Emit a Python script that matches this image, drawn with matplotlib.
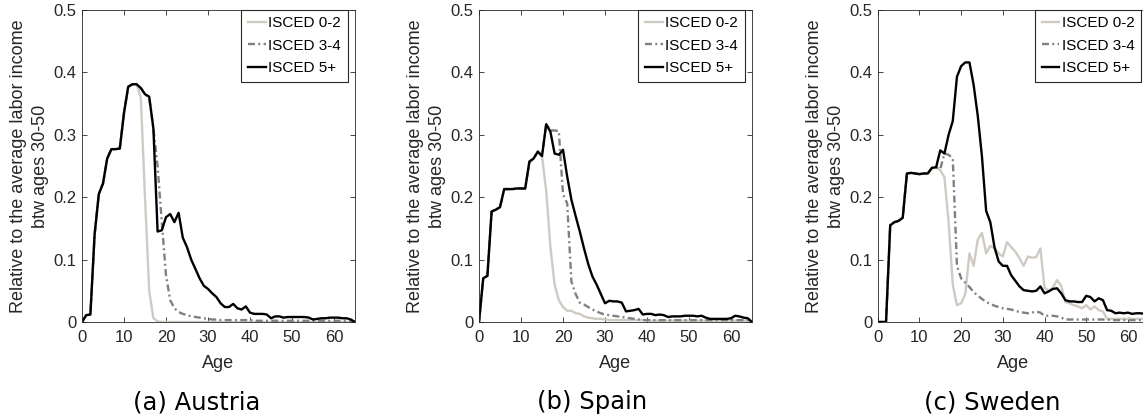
import numpy as np
import matplotlib
matplotlib.use('Agg')
import matplotlib.pyplot as plt

plt.rcParams['font.family'] = ['Liberation Sans', 'DejaVu Sans']
plt.rcParams['lines.scale_dashes'] = False

# ages 0..65
age = np.arange(0, 66)

# Austria
aut_low = [0, .011, .012, .14, .205, .222, .262, .277, .277, .278,
           .335, .377, .381, .381, .36, .2, .05, .006, .001, 0,
           0, 0, 0, 0, 0, 0, 0, 0, 0, 0,
           0, 0, 0, 0, 0, 0, 0, 0, 0, 0,
           0, 0, 0, 0, 0, 0, 0, 0, 0, 0,
           0, 0, 0, 0, 0, 0, 0, 0, 0, 0,
           0, 0, 0, 0, 0, 0]
aut_mid = [0, .011, .012, .14, .205, .222, .262, .277, .277, .278,
           .335, .377, .381, .381, .375, .365, .361, .31, .25, .16,
           .075, .035, .022, .016, .013, .011, .009, .008, .007, .006,
           .005, .004, .004, .003, .003, .003, .003, .003, .003, .003,
           .003, .002, .002, .002, .002, .002, .002, .002, .002, .002,
           .002, .002, .002, .002, .002, .002, .002, .002, .002, .002,
           .002, .002, .002, .002, .002, 0]
aut_hi = [0, .011, .012, .14, .205, .222, .262, .277, .277, .278,
          .335, .377, .381, .381, .375, .365, .361, .31, .145, .147,
          .168, .173, .16, .175, .135, .12, .1, .085, .07, .058,
          .053, .046, .04, .03, .024, .024, .029, .022, .02, .025,
          .015, .013, .013, .013, .012, .006, .009, .009, .007, .008,
          .008, .008, .008, .008, .007, .004, .005, .006, .006, .007,
          .007, .007, .006, .006, .004, 0]

# Spain
esp_low = [0, .07, .074, .177, .18, .184, .213, .213, .213, .214,
           .214, .214, .257, .262, .273, .266, .21, .12, .06, .035,
           .024, .018, .018, .014, .013, .009, .007, .006, .005, .005,
           .004, .003, .003, .003, .003, .003, .003, .003, .003, .003,
           .003, .002, .002, .002, .002, .002, .002, .002, .002, .002,
           .002, .002, .002, .002, .002, .002, .002, .002, .002, .002,
           .002, .002, .002, .002, .002, 0]
esp_mid = [0, .07, .074, .177, .18, .184, .213, .213, .213, .214,
           .214, .214, .257, .262, .273, .266, .317, .307, .307, .306,
           .205, .19, .065, .045, .031, .028, .024, .02, .017, .014,
           .012, .011, .01, .009, .008, .007, .006, .005, .004, .003,
           .003, .003, .003, .003, .003, .003, .003, .003, .003, .003,
           .003, .003, .003, .003, .003, .003, .003, .003, .003, .003,
           .003, .003, .003, .003, .003, 0]
esp_hi = [0, .07, .074, .177, .18, .184, .213, .213, .213, .214,
          .214, .214, .257, .262, .273, .266, .317, .305, .27, .268,
          .276, .233, .196, .17, .145, .118, .093, .073, .06, .045,
          .03, .034, .033, .033, .031, .017, .018, .019, .021, .012,
          .013, .013, .011, .012, .011, .008, .009, .009, .009, .01,
          .01, .01, .009, .01, .007, .005, .005, .005, .005, .005,
          .006, .01, .009, .007, .006, 0]

# Sweden
swe_low = [0, 0, 0, .155, .16, .162, .167, .238, .239, .238,
           .237, .238, .238, .247, .248, .243, .232, .16, .06, .027,
           .03, .045, .11, .09, .132, .143, .11, .122, .118, .11,
           .105, .128, .12, .113, .102, .09, .105, .103, .104, .118,
           .055, .05, .055, .067, .058, .032, .03, .027, .025, .022,
           .027, .02, .025, .019, .017, .005, .005, .005, .005, .005,
           .005, .005, .005, .005, .005, .005]
swe_mid = [0, 0, 0, .155, .16, .162, .167, .238, .239, .238,
           .237, .238, .238, .247, .248, .245, .27, .268, .262, .09,
           .07, .063, .056, .048, .042, .037, .032, .029, .026, .024,
           .022, .021, .02, .018, .016, .015, .014, .015, .017, .015,
           .01, .01, .01, .009, .007, .004, .004, .004, .004, .004,
           .004, .004, .004, .004, .004, .004, .003, .003, .003, .003,
           .003, .003, .003, .003, .003, .003]
swe_hi = [0, 0, 0, .155, .16, .162, .167, .238, .239, .238,
          .237, .238, .238, .247, .248, .275, .27, .3, .322, .393,
          .41, .416, .416, .38, .33, .265, .178, .16, .12, .097,
          .09, .09, .075, .066, .057, .051, .05, .049, .05, .057,
          .046, .049, .053, .054, .046, .035, .033, .033, .032, .032,
          .042, .04, .033, .038, .035, .019, .018, .014, .015, .014,
          .015, .013, .014, .014, .013, .013]

labels = ['ISCED 0-2', 'ISCED 3-4', 'ISCED 5+']
captions = ['(a) Austria', '(b) Spain', '(c) Sweden']
yticks = [0, 0.1, 0.2, 0.3, 0.4, 0.5]
ytick_labels = ['0', '0.1', '0.2', '0.3', '0.4', '0.5']
xticks = [0, 10, 20, 30, 40, 50, 60]

W, H = 1143, 419
# axes boxes in pixels: left, right ; top 10, bottom 322
boxes = [(82, 355), (479, 752), (877.7, 1148.8)]
cap_x = [197, 592, 992]
data = [(aut_low, aut_mid, aut_hi), (esp_low, esp_mid, esp_hi), (swe_low, swe_mid, swe_hi)]

dark = '#262626'
fig = plt.figure(figsize=(W / 100, H / 100), dpi=100)

for i in range(3):
    l, r = boxes[i]
    ax = fig.add_axes([l / W, (H - 322) / H, (r - l) / W, 312 / H])
    low, mid, hi = data[i]
    ax.plot(age, low, color='#CFCBC3', lw=1.7, label=labels[0])
    ax.plot(age, mid, color='#808080', lw=1.7, dashes=(5, 2.4, 1.4, 2.4), label=labels[1])
    ax.plot(age, hi, color='black', lw=1.7, label=labels[2])
    ax.set_xlim(0, 65)
    ax.set_ylim(0, 0.5)
    ax.set_xticks(xticks)
    ax.set_yticks(yticks)
    ax.set_yticklabels(ytick_labels)
    ax.tick_params(direction='in', top=True, right=True, length=3.5, width=0.6,
                   colors=dark, labelsize=12)
    ax.tick_params(axis='x', pad=6)
    ax.tick_params(axis='y', pad=4)
    for s in ax.spines.values():
        s.set_color(dark)
        s.set_linewidth(0.6)
    ax.set_xlabel('Age', fontsize=13, color=dark)
    ax.set_ylabel('Relative to the average labor income\nbtw ages 30-50', fontsize=13,
                  color=dark, linespacing=1.35)
    ax.yaxis.set_label_coords(-33 / (r - l), 0.5)
    ax.xaxis.set_label_coords(0.5, -33 / 312)
    leg = ax.legend(loc='upper right', bbox_to_anchor=(1 - 7.5 / (r - l), 1 + 0.5 / 312),
                    borderaxespad=0, fontsize=11, fancybox=False, framealpha=1,
                    edgecolor=dark, handlelength=1.15, handletextpad=0.15,
                    borderpad=0.45, labelspacing=0.55)
    leg.get_frame().set_linewidth(0.8)
    fig.text(cap_x[i] / W, 1 - 409.3 / H, captions[i], family='DejaVu Sans',
             fontsize=17.5, ha='center', va='baseline', color='black')

fig.savefig('out.png', dpi=100)
